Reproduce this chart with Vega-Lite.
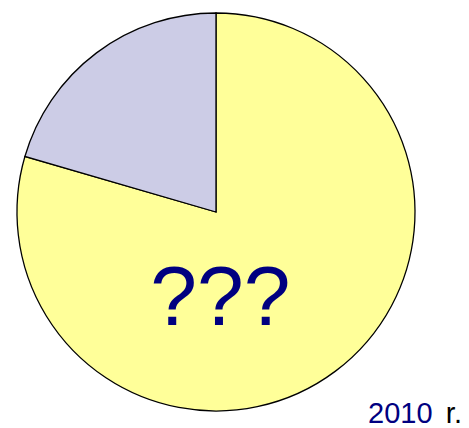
{
  "$schema": "https://vega.github.io/schema/vega-lite/v6.json",
  "autosize": {"type": "none"},
  "width": 469,
  "height": 428,
  "padding": 0,
  "background": "white",
  "view": {"stroke": null},
  "resolve": {"scale": {"color": "independent"}},
  "layer": [
    {
      "data": {"values": [
        {"category": "main", "value": 79.5, "ord": 1, "cx": 0, "cy": 0},
        {"category": "other", "value": 20.5, "ord": 2, "cx": 0, "cy": 0}
      ]},
      "mark": {"type": "arc", "radius": 199, "stroke": "#000000", "strokeWidth": 1.3},
      "encoding": {
        "x": {"field": "cx", "type": "quantitative", "scale": {"domain": [-1.0854, 1.2714]}, "axis": null},
        "y": {"field": "cy", "type": "quantitative", "scale": {"domain": [-1.0854, 1.0653]}, "axis": null},
        "theta": {"field": "value", "type": "quantitative", "stack": true},
        "order": {"field": "ord", "type": "quantitative"},
        "color": {"field": "category", "type": "nominal", "legend": null,
          "scale": {"domain": ["main", "other"], "range": ["#FFFF99", "#CCCCE6"]}}
      }
    },
    {
      "data": {"values": [
        {"label": "???", "px": 0.022, "py": -0.57, "c": "navy", "fs": 84},
        {"label": "2010", "px": 0.764, "py": -1.061, "c": "navy", "fs": 29},
        {"label": "r.", "px": 1.155, "py": -1.061, "c": "black", "fs": 29}
      ]},
      "transform": [{"filter": "datum.fs == 84"}],
      "mark": {"type": "text", "font": "Liberation Sans", "fontSize": 84, "align": "center", "baseline": "alphabetic", "color": "#000080"},
      "encoding": {
        "x": {"field": "px", "type": "quantitative", "scale": {"domain": [-1.0854, 1.2714]}, "axis": null},
        "y": {"field": "py", "type": "quantitative", "scale": {"domain": [-1.0854, 1.0653]}, "axis": null},
        "text": {"field": "label"}
      }
    },
    {
      "data": {"values": [
        {"label": "???", "px": 0.022, "py": -0.57, "c": "navy", "fs": 84},
        {"label": "2010", "px": 0.764, "py": -1.061, "c": "navy", "fs": 29},
        {"label": "r.", "px": 1.155, "py": -1.061, "c": "black", "fs": 29}
      ]},
      "transform": [{"filter": "datum.fs == 29"}],
      "mark": {"type": "text", "font": "Liberation Sans", "fontSize": 29, "align": "left", "baseline": "alphabetic"},
      "encoding": {
        "x": {"field": "px", "type": "quantitative", "scale": {"domain": [-1.0854, 1.2714]}, "axis": null},
        "y": {"field": "py", "type": "quantitative", "scale": {"domain": [-1.0854, 1.0653]}, "axis": null},
        "text": {"field": "label"},
        "color": {"field": "c", "type": "nominal", "legend": null, "scale": {"domain": ["navy", "black"], "range": ["#000080", "#000000"]}}
      }
    }
  ]
}
